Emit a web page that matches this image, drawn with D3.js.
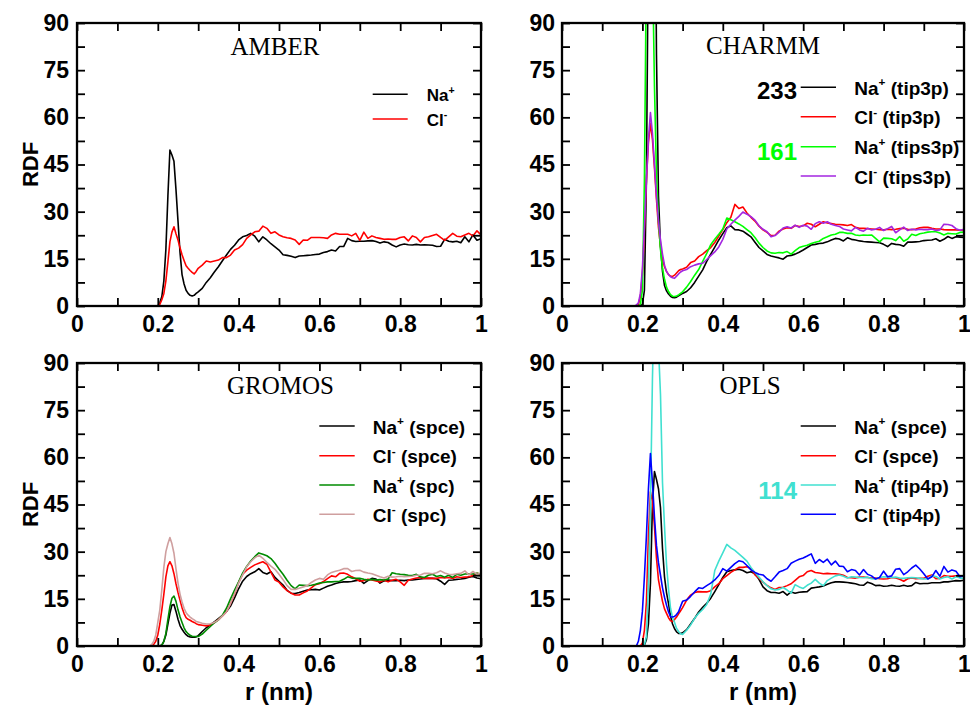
<!DOCTYPE html>
<html>
<head>
<meta charset="utf-8">
<script src="https://cdn.jsdelivr.net/npm/d3@7"></script>
<style>
  body { margin: 0; background: #ffffff; }
  svg { display: block; }
</style>
</head>
<body>
<svg id="chart" width="970" height="706"></svg>
<script>
// Sampling radii (nm): 0.005 steps over the first shell, 0.01 beyond
const rGrid = [
  0.180, 0.185, 0.190, 0.195, 0.200, 0.205, 0.210, 0.215, 0.220, 0.225, 0.230, 0.235,
  0.240, 0.245, 0.250, 0.255, 0.260, 0.265, 0.270, 0.275, 0.280, 0.285, 0.290, 0.295,
  0.30, 0.31, 0.32, 0.33, 0.34, 0.35, 0.36, 0.37, 0.38, 0.39,
  0.40, 0.41, 0.42, 0.43, 0.44, 0.45, 0.46, 0.47, 0.48, 0.49,
  0.50, 0.51, 0.52, 0.53, 0.54, 0.55, 0.56, 0.57, 0.58, 0.59,
  0.60, 0.61, 0.62, 0.63, 0.64, 0.65, 0.66, 0.67, 0.68, 0.69,
  0.70, 0.71, 0.72, 0.73, 0.74, 0.75, 0.76, 0.77, 0.78, 0.79,
  0.80, 0.81, 0.82, 0.83, 0.84, 0.85, 0.86, 0.87, 0.88, 0.89,
  0.90, 0.91, 0.92, 0.93, 0.94, 0.95, 0.96, 0.97, 0.98, 0.99,
  1.00
];

// AMBER
const amberNa = [
  0, 0, 0, 0, 0, 1, 3, 8, 18, 35, 49.6, 48, 46, 37, 27, 17, 10, 7, 5, 4, 3.4, 3.2, 3.4, 4.0,
  4.5, 5.6, 7.5, 9.0, 10.8, 12.5, 14.4, 16.2, 18.0, 19.3,
  21.0, 22.0, 22.4, 23.1, 22.2, 20.4, 22.0, 21.0, 19.8, 18.8,
  17.8, 16.3, 16.1, 15.8, 15.4, 15.9, 16.0, 16.1, 16.2, 16.4,
  16.5, 17.0, 17.3, 17.8, 17.5, 18.9, 18.9, 21.5, 20.8, 20.5,
  20.6, 20.6, 20.7, 20.8, 20.5, 20.0, 20.4, 20.2, 19.4, 18.8,
  19.4, 19.7, 19.5, 19.4, 19.6, 19.4, 19.5, 19.4, 19.3, 18.9,
  19.0, 21.2, 20.6, 20.4, 20.6, 20.1, 22.0, 20.4, 22.6, 20.9,
  21.4
];
const amberCl = [
  0, 0, 0, 0, 0, 0.5, 2, 4, 8, 14, 20.4, 23.5, 25.2, 23, 21, 18.5, 16.3, 14.5, 12.8, 12, 11.3, 10.7, 10.2, 11.0,
  12.0, 13.0, 14.3, 14.0, 14.3, 14.6, 15.4, 15.4, 16.2, 17.8,
  18.4, 19.5, 21.5, 22.6, 23.6, 23.8, 25.4, 24.7, 23.1, 23.6,
  22.6, 22.0, 21.7, 21.5, 21.0, 19.6, 21.0, 20.9, 21.8, 21.8,
  21.8, 21.7, 21.5, 22.6, 23.1, 22.8, 22.8, 22.8, 22.3, 23.1,
  20.9, 23.5, 21.5, 22.3, 21.8, 21.5, 21.2, 21.3, 21.2, 21.2,
  21.8, 22.0, 20.7, 22.3, 21.8, 20.4, 21.8, 22.0, 22.4, 22.8,
  21.8, 20.9, 22.0, 23.1, 22.2, 22.0, 22.6, 23.1, 22.3, 23.9,
  22.6
];

// CHARMM
const charmmNaTip3p = [
  0, 0, 0, 0, 0.5, 5, 40, 120, 200, 233, 170, 80, 35, 19, 11, 6.5, 4.8, 3.8, 3.1, 2.7, 2.6, 2.8, 3.2, 3.6,
  4.0, 4.6, 5.8, 7.5, 9.5, 11.5, 14.2, 16.5, 18.7, 21.0,
  23.0, 24.9, 25.5, 24.3, 24.2, 23.8, 22.9, 22.0, 20.3, 18.6,
  17.5, 16.4, 15.9, 15.6, 15.3, 14.9, 15.9, 16.1, 16.5, 17.1,
  17.8, 18.6, 19.4, 19.6, 19.9, 20.0, 20.4, 21.0, 21.5, 21.3,
  20.7, 21.7, 21.2, 21.0, 20.7, 20.5, 20.4, 20.3, 20.2, 20.1,
  19.6, 18.9, 19.9, 19.6, 19.5, 19.0, 20.3, 20.3, 20.4, 20.5,
  20.8, 20.9, 21.0, 21.4, 20.6, 21.2, 22.1, 21.5, 22.0, 21.9,
  21.8
];
const charmmClTip3p = [
  0, 0, 0.5, 3, 10, 24, 40, 52, 58, 53, 44, 34, 25, 19, 15, 12.5, 11, 10, 9.5, 9.4, 9.8, 10.5, 11.2, 11.6,
  11.8, 12.3, 13.8, 14.3, 15.7, 16.5, 17.6, 18.6, 20.2, 22.2,
  24.3, 26.5, 28.2, 32.3, 31.0, 31.5, 29.6, 28.2, 27.0, 25.4,
  24.2, 23.4, 22.4, 22.5, 23.8, 24.5, 24.9, 24.7, 25.6, 25.3,
  25.5, 26.3, 26.0, 25.2, 26.0, 26.8, 26.4, 26.2, 26.0, 25.9,
  25.8, 25.6, 25.9, 25.0, 24.7, 24.7, 24.6, 24.5, 24.4, 24.3,
  24.2, 24.4, 24.3, 24.4, 24.6, 24.7, 24.4, 24.3, 24.5, 24.9,
  25.0, 25.0, 24.7, 24.5, 24.5, 24.3, 24.2, 24.2, 24.2, 24.1,
  24.2
];
const charmmNaTips3p = [
  0, 0, 0, 0.5, 5, 40, 110, 161, 150, 110, 70, 42, 27, 18, 12, 8.5, 6, 4.6, 3.6, 3.1, 3.0, 3.2, 3.5, 4.0,
  4.5, 6.0, 7.8, 9.8, 11.6, 14.2, 16.7, 19.5, 21.2, 22.8,
  24.5, 28.0, 27.4, 26.8, 26.1, 25.3, 24.3, 23.3, 21.8, 20.0,
  18.6, 17.5, 16.9, 16.8, 17.0, 16.9, 17.3, 16.5, 17.6, 18.6,
  19.0, 19.3, 19.9, 20.3, 20.6, 21.5, 22.0, 22.6, 22.8, 23.4,
  23.4, 23.1, 23.1, 22.6, 22.4, 22.6, 22.5, 22.6, 21.5, 20.4,
  21.6, 21.5, 21.4, 20.8, 22.1, 20.6, 21.3, 22.8, 22.4, 23.0,
  23.2, 23.5, 23.6, 23.6, 23.2, 22.6, 23.1, 23.0, 22.9, 23.4,
  23.5
];
const charmmClTips3p = [
  0, 0.3, 1, 4, 12, 25, 40, 53, 61.5, 55, 45, 35, 27, 21, 16.5, 13, 11, 10, 9.3, 9.0, 8.8, 9.5, 10.2, 10.8,
  11.2, 11.6, 12.5, 13.0, 13.4, 13.6, 14.8, 16.0, 17.2, 18.8,
  21.2, 24.5, 26.0, 27.3, 28.5, 29.9, 29.2, 28.4, 27.3, 25.5,
  24.4, 23.6, 22.0, 22.4, 23.5, 24.8, 25.2, 24.8, 25.7, 25.0,
  25.7, 25.4, 24.4, 26.2, 26.8, 26.3, 26.8, 26.0, 25.6, 25.3,
  24.5, 24.2, 23.9, 25.0, 24.2, 23.8, 24.7, 24.2, 24.4, 25.0,
  24.0, 24.6, 25.3, 23.3, 24.2, 25.1, 24.0, 24.4, 24.2, 24.4,
  24.3, 24.3, 24.5, 24.0, 24.2, 26.0, 25.9, 25.6, 24.6, 24.1,
  24.4
];

// GROMOS
const gromosNaSpce = [
  0, 0, 0, 0, 0, 0, 0.3, 1.5, 3.5, 7, 10.4, 13, 13.2, 11, 8.5, 6.5, 5.3, 4.4, 3.6, 3.1, 2.9, 2.8, 2.8, 2.9,
  3.3, 4.6, 5.8, 6.7, 7.7, 8.7, 9.7, 11.0, 12.7, 15.3,
  18.2, 20.6, 22.1, 23.0, 23.6, 24.6, 23.4, 22.9, 23.6, 21.8,
  20.6, 19.4, 17.7, 16.8, 16.7, 17.0, 17.4, 17.8, 17.9, 18.0,
  17.8, 18.4, 19.0, 19.4, 19.9, 20.2, 20.4, 20.4, 20.5, 20.8,
  21.0, 19.9, 20.8, 21.5, 21.3, 20.0, 20.7, 21.0, 20.8, 20.8,
  20.9, 20.8, 21.0, 21.0, 21.2, 21.3, 21.5, 21.5, 21.5, 21.4,
  20.6, 19.6, 20.9, 21.0, 21.2, 21.3, 21.5, 21.9, 22.1, 21.6,
  21.4
];
const gromosClSpce = [
  0, 0, 0.5, 1.5, 3.5, 7, 11.5, 16.5, 22, 25.5, 26.8, 25.5, 23, 19.8, 17, 14.5, 12.2, 10.3, 9.0, 8.5, 8.2, 7.8, 7.5, 7.1,
  6.8, 6.6, 6.4, 6.7, 7.4, 8.4, 9.6, 10.9, 13.5, 16.5,
  20.2, 22.8, 24.1, 25.0, 25.8, 26.3, 26.8, 26.0, 23.5, 21.0,
  20.3, 18.8, 17.6, 16.8, 16.2, 16.2, 16.9, 17.5, 18.5, 19.5,
  19.8, 20.5, 21.4, 22.3, 22.0, 23.1, 23.2, 22.8, 22.0, 21.4,
  20.6, 20.8, 21.2, 21.0, 20.7, 20.4, 20.9, 20.4, 20.9, 21.2,
  20.4, 19.3, 20.9, 21.3, 21.6, 21.8, 21.5, 21.6, 21.5, 21.5,
  21.8, 21.6, 21.8, 21.5, 22.0, 21.8, 21.9, 22.0, 22.4, 23.1,
  22.8
];
const gromosNaSpc = [
  0, 0, 0, 0, 0, 0, 0.3, 1.5, 4, 8.5, 12.5, 15.2, 15.9, 14.2, 11.5, 9.3, 7.5, 5.8, 4.6, 3.9, 3.4, 3.1, 3.0, 3.0,
  3.0, 3.8, 5.0, 6.2, 7.4, 8.3, 9.8, 12.0, 15.0, 17.8,
  20.4, 23.2, 25.3, 27.0, 28.4, 29.6, 29.2, 28.7, 27.8, 26.3,
  24.5, 22.8, 20.9, 19.2, 18.2, 19.4, 19.3, 19.2, 19.3, 19.6,
  20.0, 20.2, 20.4, 20.4, 20.5, 20.6, 21.2, 22.0, 21.6, 21.5,
  21.5, 21.2, 21.0, 21.2, 21.0, 21.1, 21.0, 21.3, 23.3, 23.0,
  22.8, 22.7, 22.5, 22.4, 22.8, 22.0, 21.8, 22.5, 22.8, 22.1,
  22.4, 21.9, 22.5, 21.8, 22.8, 22.5, 22.9, 23.0, 22.9, 23.1,
  22.9
];
const gromosClSpc = [
  0, 0.5, 1.5, 3.5, 7.5, 11.5, 18, 25, 30, 32.5, 34.5, 32.5, 29.5, 24.5, 20, 16.5, 14, 12, 10.6, 9.8, 9.2, 8.7, 8.3, 7.8,
  7.6, 7.2, 7.0, 7.1, 7.5, 8.3, 9.6, 10.9, 13.5, 16.6,
  20.0, 22.6, 25.2, 26.8, 28.0, 28.9, 27.9, 26.6, 25.4, 24.4,
  22.8, 21.1, 19.2, 18.0, 18.0, 18.4, 18.8, 19.2, 20.2, 21.0,
  21.5, 21.2, 22.6, 23.4, 23.8, 24.1, 24.6, 24.6, 23.7, 24.0,
  24.1, 23.5, 23.2, 23.0, 22.5, 22.0, 21.6, 22.2, 21.9, 22.0,
  22.2, 22.0, 22.1, 22.2, 22.5, 22.6, 23.1, 23.1, 23.0, 23.3,
  23.9, 23.2, 22.8, 22.7, 23.0, 23.1, 23.9, 22.6, 23.7, 22.8,
  23.1
];

// OPLS
const oplsNaSpce = [
  0, 0, 0, 0, 0, 0.3, 2, 7, 20, 45, 55.5, 53, 50, 44, 31, 22, 17, 13.5, 9.5, 7, 5.5, 4.5, 4.0, 4.0,
  4.2, 5.2, 7.0, 8.8, 10.8, 12.3, 13.6, 15.2, 17.3, 19.5,
  21.8, 23.6, 24.0, 24.2, 24.4, 24.0, 23.3, 23.6, 23.0, 21.2,
  18.8, 17.6, 17.0, 17.0, 16.8, 17.3, 16.2, 17.2, 16.8, 17.1,
  17.2, 17.3, 18.4, 18.6, 18.8, 19.1, 19.6, 20.1, 20.4, 20.4,
  20.3, 20.2, 20.0, 19.8, 19.4, 19.3, 20.3, 19.9, 19.2, 19.3,
  19.0, 19.1, 19.3, 19.1, 19.0, 19.3, 19.0, 19.2, 20.2, 19.8,
  19.9, 19.9, 20.1, 20.1, 20.1, 20.4, 20.4, 20.6, 20.8, 20.7,
  20.9
];
const oplsClSpce = [
  0, 0, 0, 0, 1, 5, 14, 35, 49, 46, 38, 28, 21, 17.5, 14.2, 11.8, 10.4, 9.0, 8.0, 7.8, 8.4, 9.2, 10.2, 11.2,
  12.2, 14.6, 16.2, 17.0, 17.3, 17.2, 17.2, 17.6, 18.8, 19.8,
  21.4, 22.4, 23.4, 24.2, 25.0, 25.0, 25.2, 24.6, 22.6, 21.6,
  20.3, 19.3, 18.5, 18.0, 18.6, 18.7, 19.2, 19.8, 20.9, 22.0,
  22.4, 23.6, 24.0, 23.4, 23.2, 23.0, 23.1, 23.0, 23.0, 22.8,
  22.5, 21.8, 21.7, 21.6, 21.9, 21.9, 21.8, 21.6, 21.6, 21.4,
  21.3, 21.4, 21.8, 21.6, 21.2, 20.6, 21.4, 21.6, 21.4, 21.5,
  21.5, 22.2, 22.6, 21.4, 21.5, 22.4, 22.2, 22.2, 22.3, 22.2,
  22.2
];
const oplsNaTip4p = [
  0, 0, 0, 0, 0, 0.5, 3, 20, 45, 85, 114, 105, 95, 80, 52, 38, 26, 18, 12, 9.0, 7.5, 5.6, 4.6, 3.9,
  3.7, 5.0, 6.7, 8.8, 10.4, 11.6, 13.2, 16.5, 24.0, 27.0,
  29.6, 32.3, 31.2, 30.4, 29.3, 28.2, 27.0, 25.0, 23.4, 21.9,
  20.4, 19.2, 18.2, 17.8, 18.0, 18.6, 17.8, 16.8, 19.5, 18.8,
  18.3, 19.3, 20.0, 21.2, 20.0, 19.2, 20.8, 21.6, 22.3, 22.6,
  22.2, 21.6, 22.0, 21.9, 21.8, 21.7, 21.9, 21.4, 21.3, 21.8,
  22.0, 21.9, 21.8, 21.9, 21.6, 21.5, 21.7, 21.8, 21.7, 21.5,
  21.3, 21.3, 22.3, 22.1, 21.3, 21.8, 22.0, 21.3, 22.0, 21.6,
  21.6
];
const oplsClTip4p = [
  0, 0, 1.5, 5, 11, 22, 35, 50, 61.2, 52, 41, 32, 26.5, 22.5, 18.5, 15.5, 13, 10.8, 9.3, 9.2, 9.4, 10.0, 10.9, 12.6,
  14.2, 14.6, 15.8, 17.2, 18.5, 18.3, 19.2, 20.0, 21.0, 22.4,
  24.6, 23.8, 25.0, 26.2, 27.1, 26.8, 25.6, 24.2, 23.4, 22.8,
  22.6, 21.4, 20.6, 22.0, 23.5, 24.0, 24.6, 26.3, 27.0, 27.6,
  28.0, 28.6, 29.3, 26.3, 27.5, 26.6, 27.6, 25.8, 27.0, 25.4,
  25.3, 23.6, 24.3, 24.0, 22.6, 24.3, 22.8, 22.3, 21.3, 21.8,
  23.8, 22.0, 22.3, 24.4, 24.6, 22.7, 23.6, 24.8, 25.7, 24.5,
  23.0, 21.3, 22.0, 24.0, 22.2, 25.3, 23.5, 24.2, 23.8, 22.0,
  22.4
];

// Axis ticks
const xTickValues = [0, 0.1, 0.2, 0.3, 0.4, 0.5, 0.6, 0.7, 0.8, 0.9, 1.0];
const xTickLabels = ["0", "", "0.2", "", "0.4", "", "0.6", "", "0.8", "", "1"];
const yTickValues = [0, 7.5, 15, 22.5, 30, 37.5, 45, 52.5, 60, 67.5, 75, 82.5, 90];
const yTickLabels = ["0", "", "15", "", "30", "", "45", "", "60", "", "75", "", "90"];

const SANS = '"Liberation Sans", Arial, Helvetica, sans-serif';
const SERIF = '"Liberation Serif", "Times New Roman", Times, serif';

const panels = [
  {
    title: "AMBER", left: 77, right: 481, top: 23, bottom: 306,
    titleX: 275, titleY: 55, yTitle: true, xTitle: false, yLabelPad: 8,
    legend: { x0: 372.7, x1: 407.7, tx: 426.7, rows: [94.3, 119], size: 17, shift: 7 },
    series: [
      { ion: "Na", charge: "+", water: "", color: "#000000", values: amberNa },
      { ion: "Cl", charge: "-", water: "", color: "#ff0000", values: amberCl }
    ],
    peaks: []
  },
  {
    title: "CHARMM", left: 562, right: 964, top: 23, bottom: 306,
    titleX: 763, titleY: 53.5, yTitle: false, xTitle: false, yLabelPad: 7,
    legend: { x0: 800.7, x1: 836, tx: 854.3, rows: [87.3, 116.7, 146.7, 176], size: 19, shift: 7.5 },
    series: [
      { ion: "Na", charge: "+", water: "tip3p", color: "#000000", values: charmmNaTip3p },
      { ion: "Cl", charge: "-", water: "tip3p", color: "#ff0000", values: charmmClTip3p },
      { ion: "Na", charge: "+", water: "tips3p", color: "#00ff00", values: charmmNaTips3p },
      { ion: "Cl", charge: "-", water: "tips3p", color: "#a326e0", values: charmmClTips3p }
    ],
    peaks: [ { series: 0, x: 797, y: 98.5 }, { series: 2, x: 797, y: 159.5 } ]
  },
  {
    title: "GROMOS", left: 77, right: 481, top: 363, bottom: 646,
    titleX: 280.5, titleY: 393.5, yTitle: true, xTitle: true, yLabelPad: 8,
    legend: { x0: 319.3, x1: 354.7, tx: 372.7, rows: [426, 455.7, 485, 514.3], size: 19, shift: 7.5 },
    series: [
      { ion: "Na", charge: "+", water: "spce", color: "#000000", values: gromosNaSpce },
      { ion: "Cl", charge: "-", water: "spce", color: "#ff0000", values: gromosClSpce },
      { ion: "Na", charge: "+", water: "spc", color: "#008b00", values: gromosNaSpc },
      { ion: "Cl", charge: "-", water: "spc", color: "#cf9f9f", values: gromosClSpc }
    ],
    peaks: []
  },
  {
    title: "OPLS", left: 562, right: 964, top: 363, bottom: 646,
    titleX: 750, titleY: 393.5, yTitle: false, xTitle: true, yLabelPad: 7,
    legend: { x0: 800.7, x1: 836, tx: 854.3, rows: [426, 455.7, 485, 514.3], size: 19, shift: 7.5 },
    series: [
      { ion: "Na", charge: "+", water: "spce", color: "#000000", values: oplsNaSpce },
      { ion: "Cl", charge: "-", water: "spce", color: "#ff0000", values: oplsClSpce },
      { ion: "Na", charge: "+", water: "tip4p", color: "#40e0d0", values: oplsNaTip4p },
      { ion: "Cl", charge: "-", water: "tip4p", color: "#0000ff", values: oplsClTip4p }
    ],
    peaks: [ { series: 2, x: 797, y: 499 } ]
  }
];

const svg = d3.select("#chart");
svg.append("rect").attr("width", 970).attr("height", 706).attr("fill", "#ffffff");

panels.forEach((p, i) => {
  const x = d3.scaleLinear().domain([0, 1]).range([p.left, p.right]);
  const y = d3.scaleLinear().domain([0, 90]).range([p.bottom, p.top]);
  const g = svg.append("g");

  const clipId = "clip-" + i;
  svg.append("clipPath").attr("id", clipId)
    .append("rect")
    .attr("x", p.left).attr("y", p.top)
    .attr("width", p.right - p.left).attr("height", p.bottom - p.top);

  // RDF curves
  const line = d3.line()
    .x((d, k) => x(rGrid[k]))
    .y(d => y(d));
  const curves = g.append("g").attr("clip-path", `url(#${clipId})`);
  p.series.forEach(s => {
    curves.append("path")
      .attr("d", line(s.values))
      .attr("fill", "none")
      .attr("stroke", s.color)
      .attr("stroke-width", 1.6)
      .attr("stroke-linejoin", "round");
  });

  // Axes: inward ticks on all four sides
  const fmtX = (d, k) => xTickLabels[k];
  const fmtY = (d, k) => yTickLabels[k];
  const styleAxis = sel => {
    sel.select(".domain").remove();
    sel.selectAll(".tick line").attr("stroke", "#000").attr("stroke-width", 1.8);
    sel.selectAll(".tick text")
      .attr("fill", "#000")
      .style("font-family", SANS)
      .style("font-weight", "bold")
      .style("font-size", "23px");
  };
  g.append("g").attr("transform", `translate(0,${p.bottom})`)
    .call(d3.axisBottom(x).tickValues(xTickValues).tickSize(-8).tickPadding(10).tickFormat(fmtX))
    .call(styleAxis);
  g.append("g").attr("transform", `translate(0,${p.top})`)
    .call(d3.axisTop(x).tickValues(xTickValues).tickSize(-8).tickFormat(""))
    .call(styleAxis);
  g.append("g").attr("transform", `translate(${p.left},0)`)
    .call(d3.axisLeft(y).tickValues(yTickValues).tickSize(-8).tickPadding(p.yLabelPad).tickFormat(fmtY))
    .call(styleAxis);
  g.append("g").attr("transform", `translate(${p.right},0)`)
    .call(d3.axisRight(y).tickValues(yTickValues).tickSize(-8).tickFormat(""))
    .call(styleAxis);

  // Frame
  g.append("rect")
    .attr("x", p.left).attr("y", p.top)
    .attr("width", p.right - p.left).attr("height", p.bottom - p.top)
    .attr("fill", "none").attr("stroke", "#000").attr("stroke-width", 2.3);

  // Force-field title
  g.append("text")
    .attr("x", p.titleX).attr("y", p.titleY)
    .attr("text-anchor", "middle")
    .style("font-family", SERIF)
    .style("font-size", "25px")
    .text(p.title);

  // Legend
  const L = p.legend;
  p.series.forEach((s, k) => {
    const ry = L.rows[k];
    g.append("line")
      .attr("x1", L.x0).attr("x2", L.x1).attr("y1", ry).attr("y2", ry)
      .attr("stroke", s.color).attr("stroke-width", 1.6);
    const t = g.append("text")
      .attr("x", L.tx).attr("y", ry + L.shift)
      .style("font-family", SANS).style("font-weight", "bold")
      .style("font-size", L.size + "px")
      .style("white-space", "pre")
      .attr("fill", "#000");
    t.append("tspan").text(s.ion);
    t.append("tspan")
      .attr("dy", -0.45 * L.size)
      .style("font-size", (0.62 * L.size) + "px")
      .text(s.charge);
    if (s.water) {
      t.append("tspan").attr("dy", 0.45 * L.size).text(" (" + s.water + ")");
    }
  });

  // Heights of first-shell peaks that run off the top of the frame
  p.peaks.forEach(pk => {
    const s = p.series[pk.series];
    g.append("text")
      .attr("x", pk.x).attr("y", pk.y)
      .attr("text-anchor", "end")
      .style("font-family", SANS).style("font-weight", "bold")
      .style("font-size", "24px")
      .attr("fill", s.color === "#000000" ? "#000" : s.color)
      .text(d3.format("d")(d3.max(s.values)));
  });

  // Axis titles
  if (p.yTitle) {
    g.append("text")
      .attr("transform", `translate(30,${(p.top + p.bottom) / 2}) rotate(-90)`)
      .attr("text-anchor", "middle")
      .attr("dy", "0.35em")
      .style("font-family", SANS).style("font-weight", "bold")
      .style("font-size", "22px")
      .text("RDF");
  }
  if (p.xTitle) {
    g.append("text")
      .attr("x", (p.left + p.right) / 2).attr("y", 700)
      .attr("text-anchor", "middle")
      .style("font-family", SANS).style("font-weight", "bold")
      .style("font-size", "24px")
      .text("r (nm)");
  }
});
</script>
</body>
</html>
